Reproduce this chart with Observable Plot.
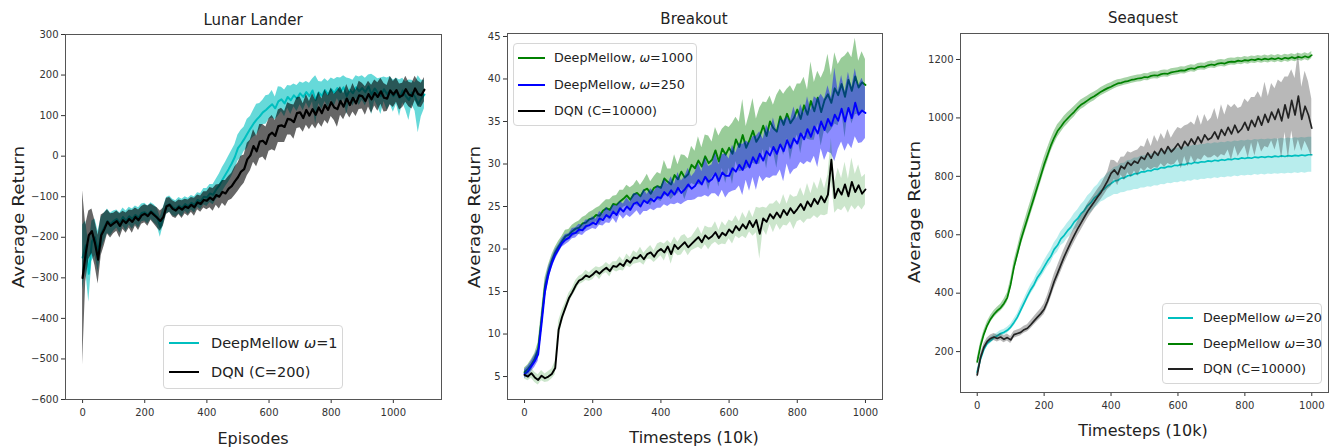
<!DOCTYPE html>
<html><head><meta charset="utf-8">
<script src="https://cdn.jsdelivr.net/npm/d3@7"></script>
<script src="https://cdn.jsdelivr.net/npm/@observablehq/plot@0.6"></script>
<style>
body{margin:0;background:#fff;}
#chart{position:relative;width:1330px;height:447px;overflow:hidden;font-family:"DejaVu Sans",sans-serif;color:#222;background:#fff}
.panel{position:absolute;top:0}
.lbl{position:absolute;white-space:nowrap;transform:translate(-50%,-50%)}
.title{font-size:15px}
.xlab{font-size:16px}
.ylab{font-size:16px;transform:translate(-50%,-50%) rotate(-90deg) scale(1.15,1)}
.legend{position:absolute;border:1px solid #d6d6d6;border-radius:4px;background:rgba(255,255,255,0.85);box-sizing:border-box}
.sw{position:absolute;height:2.5px}
.lt{position:absolute;white-space:nowrap;transform:translateY(-52%)}
</style></head><body><div id="chart"></div>
<script>
// ---------------- Lunar Lander (episodes 0..1100, every 10) ----------------
const llEpisodes = d3.range(0, 1101, 10);
const llMellow = [
  -250,-220,-290,-210,-200,-235,-190,-175,-160,-168,
  -160,-155,-165,-150,-160,-148,-155,-145,-152,-140,
  -138,-145,-135,-142,-150,-175,-148,-122,-118,-126,
  -130,-122,-128,-118,-124,-115,-120,-108,-112,-100,
  -102,-92,-95,-82,-72,-58,-45,-32,-18,-2,
  20,30,42,55,68,80,90,98,108,114,
  121,128,118,135,140,130,146,138,150,142,
  155,146,158,148,162,138,157,149,163,152,
  165,156,168,158,170,148,164,155,170,160,
  168,158,172,152,167,156,148,165,153,162,
  148,160,143,162,148,138,157,146,128,142,152];
const llMellowSpread = [
  80,60,70,50,45,50,40,35,30,28,
  25,22,25,22,25,22,25,22,25,22,
  22,22,20,22,22,25,22,20,20,20,
  20,20,22,18,20,18,20,18,20,20,
  22,22,25,25,28,30,30,32,32,30,
  32,34,30,36,30,33,38,32,30,35,
  30,34,28,36,30,33,28,35,28,32,
  28,34,26,32,28,60,27,34,28,32,
  28,33,26,35,28,45,27,32,28,35,
  30,34,28,50,30,35,45,30,40,34,
  40,32,45,30,35,50,30,35,70,45,35];
const llDqn = [
  -300,-240,-195,-185,-215,-255,-195,-180,-162,-172,
  -166,-160,-172,-158,-165,-155,-162,-150,-158,-146,
  -142,-148,-138,-145,-152,-160,-150,-124,-120,-130,
  -134,-126,-132,-124,-128,-120,-126,-114,-118,-108,
  -110,-102,-108,-96,-100,-88,-92,-80,-74,-62,
  -52,-38,-32,-8,2,25,12,36,38,30,
  52,58,50,74,76,72,92,90,84,106,
  108,94,114,100,116,102,120,106,126,114,
  133,120,116,136,122,142,126,144,130,150,
  148,136,153,140,156,146,160,144,142,162,
  152,163,146,150,165,152,148,167,153,150,164];
const llDqnSpread = [
  215,70,60,55,55,60,50,40,30,30,
  25,25,30,22,25,22,28,22,25,22,
  22,25,20,22,25,25,22,20,18,20,
  20,18,22,18,20,18,22,18,20,20,
  22,25,28,25,30,28,32,30,32,35,
  35,38,35,40,38,40,38,42,40,42,
  40,42,38,40,42,38,40,38,42,38,
  38,35,38,35,38,35,38,35,38,35,
  35,32,45,35,32,35,32,35,32,35,
  32,35,32,35,32,35,32,35,32,35,
  32,30,32,30,32,30,32,30,32,30,30];
const llYTicks = [-600,-500,-400,-300,-200,-100,0,100,200,300];
const llXTicks = [0,200,400,600,800,1000];

// ---------------- Breakout (timesteps 0..1000 x10k, every 10) ----------------
const boSteps = d3.range(0, 1001, 10);
const boMellow1000 = [
  5.5,5.9,6.4,7.1,8.2,11.8,15.6,17.3,18.6,19.6,
  20.3,20.9,21.5,21.7,22.1,22.4,22.5,23.0,23.1,23.5,
  23.6,24.0,23.9,24.5,24.8,24.6,25.3,25.2,25.6,25.9,
  26.3,25.8,26.4,26.6,26.2,26.9,27.1,26.5,27.2,27.4,
  27.2,28.3,27.9,27.6,28.7,28.2,29.1,28.4,28.8,29.9,
  29.5,30.4,29.7,30.9,30.1,30.5,31.6,30.3,31.8,31.1,
  31.9,31.2,32.9,32.0,33.4,31.9,32.8,33.9,32.6,33.3,
  34.5,33.3,35.0,34.2,33.8,35.6,34.6,35.9,34.8,35.4,
  36.4,35.3,36.9,35.8,37.4,36.2,37.8,36.1,37.5,38.2,
  37.2,38.9,38.1,39.4,37.9,39.9,38.6,40.3,39.0,39.6,
  39.3];
const boMellow1000Spread = [
  0.5,0.5,0.6,0.6,0.8,1.0,1.0,0.8,0.7,0.6,
  0.6,0.6,0.7,0.6,0.7,0.7,0.8,0.7,0.8,0.8,
  0.9,0.8,1.1,0.9,1.0,1.2,0.9,1.1,1.3,1.0,
  1.2,1.4,1.1,1.5,1.3,1.2,1.7,1.4,1.3,1.6,
  1.6,2.1,1.5,1.8,2.4,1.7,2.0,2.6,1.8,2.2,
  2.0,2.8,2.2,2.5,3.2,2.1,2.7,3.0,2.3,3.4,
  2.4,3.6,2.6,2.9,4.2,2.5,3.1,3.8,2.7,3.3,
  2.8,3.9,3.0,2.7,4.3,3.2,3.6,2.9,4.4,3.1,
  3.0,4.1,3.3,2.9,4.6,3.4,3.1,4.0,3.5,4.7,
  3.2,4.2,3.6,3.0,4.8,3.3,3.9,4.5,3.1,3.6,
  3.0];
const boMellow250 = [
  5.3,5.6,6.2,6.8,7.6,11.2,15.0,17.0,18.3,19.3,
  20.0,20.7,21.1,21.3,21.8,21.9,22.3,22.2,22.7,22.8,
  23.1,22.9,23.6,23.4,24.0,23.7,24.4,24.0,24.8,24.4,
  25.0,24.6,25.3,25.5,25.0,25.7,25.4,25.9,25.6,26.1,
  26.0,26.7,26.3,26.9,26.4,27.2,26.6,27.0,27.6,27.1,
  27.4,28.1,27.6,28.5,27.9,28.2,28.9,28.0,29.0,28.6,
  28.6,29.5,29.1,29.9,29.3,30.4,29.6,30.8,30.1,31.2,
  30.4,31.5,31.0,32.0,31.2,32.3,31.5,32.8,31.9,33.0,
  32.4,33.6,32.9,34.1,33.2,34.4,33.6,35.0,34.0,35.3,
  34.5,35.8,35.1,36.5,35.0,36.6,35.4,37.2,35.8,36.3,
  36.0];
const boMellow250Spread = [
  0.5,0.6,0.6,0.7,0.8,1.0,1.0,0.8,0.6,0.6,
  0.5,0.5,0.6,0.5,0.6,0.6,0.6,0.6,0.7,0.6,
  0.7,0.6,0.8,0.7,0.9,0.7,0.8,1.0,0.8,0.9,
  1.0,0.9,1.2,1.0,1.1,1.3,1.0,1.2,1.1,1.3,
  1.2,1.5,1.3,1.6,1.2,1.8,1.4,1.5,1.9,1.4,
  1.6,2.0,1.5,2.2,1.8,1.7,2.4,1.9,2.1,2.6,
  2.0,2.7,2.2,2.5,3.0,2.3,2.8,2.4,3.2,2.6,
  2.5,3.1,2.7,3.4,2.6,3.0,3.6,2.8,3.2,3.7,
  2.9,3.4,3.0,3.8,3.1,3.5,4.0,3.2,3.6,3.9,
  3.3,5.5,3.4,3.9,3.5,4.2,3.6,4.0,3.4,3.8,
  3.0];
const boDqn = [
  5.2,5.0,5.4,4.9,4.6,5.1,4.8,5.0,5.3,6.0,
  10.5,12.0,13.1,14.2,14.9,15.7,16.3,16.5,16.9,16.7,
  17.0,17.4,17.1,17.5,17.8,17.4,18.0,17.9,18.3,18.0,
  18.7,18.4,19.0,18.9,19.3,18.8,19.4,19.6,19.1,19.7,
  20.0,19.6,20.3,19.4,20.5,20.0,20.4,20.8,20.2,20.6,
  21.0,21.4,20.8,21.6,21.2,21.5,22.0,21.3,21.9,21.6,
  22.3,21.9,22.7,22.2,22.9,22.4,23.3,22.6,23.4,21.8,
  23.6,23.2,24.1,23.6,24.3,23.7,24.6,24.0,24.8,24.2,
  24.7,25.3,24.6,25.6,25.0,25.9,25.3,26.2,25.5,26.4,
  30.5,26.0,27.1,26.4,27.6,26.2,27.9,26.7,27.5,26.5,
  27.0];
const boDqnSpread = [
  0.5,0.5,0.6,0.6,0.6,0.6,0.5,0.6,0.6,0.8,
  1.0,0.8,0.6,0.6,0.5,0.6,0.5,0.5,0.6,0.5,
  0.6,0.5,0.7,0.5,0.6,0.7,0.5,0.6,0.8,0.6,
  0.7,0.6,0.8,0.6,0.9,0.7,0.6,0.8,0.7,0.9,
  0.8,1.0,0.7,1.2,0.9,0.8,1.1,0.9,1.0,0.8,
  1.0,1.2,0.9,1.1,1.3,1.0,1.2,0.9,1.3,1.1,
  1.1,1.3,1.2,1.0,1.4,1.2,1.3,1.1,1.5,3.0,
  1.3,1.6,1.2,1.7,1.4,1.5,1.8,1.3,1.6,1.9,
  1.5,1.9,1.6,2.1,1.5,2.0,1.7,2.2,1.6,2.3,
  2.5,1.8,2.4,1.9,2.6,2.0,2.8,2.1,2.4,1.9,
  1.8];
const boYTicks = [5,10,15,20,25,30,35,40,45];
const boXTicks = [0,200,400,600,800,1000];

// ---------------- Seaquest (timesteps 0..1000 x10k, every 10) ----------------
const sqSteps = d3.range(0, 1001, 10);
const sqMellow20 = [
  130,175,208,228,238,248,254,262,266,273,
  284,300,318,342,366,390,412,430,454,470,
  490,510,526,550,564,586,598,614,626,644,
  655,672,683,700,710,726,735,750,757,768,
  775,784,786,794,795,802,803,809,809,815,
  815,820,819,825,824,830,829,834,833,838,
  837,841,840,845,843,848,846,850,849,853,
  851,855,853,857,855,859,857,861,859,863,
  861,864,862,866,864,867,865,868,866,869,
  867,870,868,871,869,872,870,873,871,874,
  874];
const sqMellow20Spread = [
  10,10,10,10,10,10,10,10,10,10,
  10,12,12,14,14,15,16,16,18,18,
  20,20,22,22,24,24,26,26,28,28,
  30,30,32,33,34,35,36,38,40,42,
  44,46,48,50,50,52,52,54,54,55,
  55,56,56,57,57,58,58,58,58,59,
  59,59,60,60,60,60,60,60,60,60,
  60,60,60,60,60,60,60,60,60,60,
  60,60,60,60,60,60,60,60,60,60,
  60,60,60,60,60,60,60,60,60,60,
  60];
const sqMellow30 = [
  165,220,260,290,312,328,340,350,365,385,
  430,490,535,580,618,655,692,728,765,802,
  840,872,905,932,955,970,986,998,1010,1021,
  1034,1045,1052,1060,1068,1074,1082,1090,1096,1102,
  1107,1113,1118,1120,1124,1126,1130,1132,1135,1136,
  1140,1139,1144,1146,1145,1150,1152,1151,1156,1158,
  1160,1163,1162,1167,1170,1168,1174,1176,1175,1180,
  1183,1181,1186,1188,1186,1191,1193,1192,1196,1194,
  1198,1196,1200,1198,1202,1199,1203,1200,1204,1201,
  1205,1201,1206,1203,1208,1204,1209,1206,1211,1207,
  1215];
const sqMellow30Spread = [
  12,12,12,12,12,12,12,12,14,16,
  18,20,20,22,22,24,24,24,24,24,
  24,24,22,22,22,20,20,20,18,18,
  16,16,16,15,15,15,14,14,14,14,
  13,13,13,12,12,12,12,12,12,12,
  12,12,12,12,12,12,12,12,12,12,
  12,12,12,12,12,12,12,12,12,12,
  12,12,12,12,12,12,12,12,12,12,
  12,12,12,12,12,12,12,12,12,12,
  12,12,12,12,12,12,12,12,12,12,
  12];
const sqDqn = [
  120,180,215,235,245,250,245,250,242,248,
  240,258,262,266,275,280,292,305,318,330,
  345,372,405,440,468,497,525,550,575,598,
  620,640,660,680,697,713,730,745,765,785,
  810,822,806,835,826,848,838,852,845,866,
  858,880,862,885,872,895,878,902,884,896,
  912,894,920,905,928,910,935,915,942,925,
  932,952,928,960,940,968,945,975,950,962,
  985,958,992,970,1005,975,1012,985,1020,995,
  1030,990,1045,1000,1060,1010,1075,995,1040,1010,
  965];
const sqDqnSpread = [
  12,12,12,12,12,12,12,12,12,12,
  12,12,12,12,12,12,14,14,15,16,
  18,20,22,24,25,25,25,25,25,25,
  25,25,25,25,25,25,25,25,28,30,
  45,32,38,30,40,36,42,34,45,38,
  42,50,40,55,45,52,48,58,46,55,
  55,68,52,72,58,65,75,60,70,62,
  68,80,65,85,70,78,90,72,82,75,
  80,95,78,100,85,92,110,88,98,105,
  100,130,95,140,105,125,150,110,120,115,
  100];
const sqYTicks = [200,400,600,800,1000,1200];
const sqXTicks = [0,200,400,600,800,1000];

// ---------------- drawing ----------------
const CYAN = "#00bfbf", GREEN = "#008000", BLUE = "#0000ff", BLACK = "#000000";
const fmt = d => d < 0 ? "\u2212" + (-d) : String(d);
const chart = document.getElementById("chart");

function rows(x, y, sd) {
  return y.map((v, i) => ({x: x[i], y: v, lo: v - sd[i], hi: v + sd[i]}));
}

function panel(o) {
  const marks = [];
  for (const s of o.series) {
    const data = rows(s.x, s.y, s.sd);
    marks.push(Plot.areaY(data, {x: "x", y1: "lo", y2: "hi", fill: s.band, fillOpacity: s.bandOpacity}));
    marks.push(Plot.lineY(data, {x: "x", y: "y", stroke: s.color, strokeWidth: s.width || 1.7}));
  }
  marks.push(Plot.frame({stroke: "#555", strokeWidth: 1}));
  const svg = Plot.plot({
    width: o.width, height: 447,
    marginLeft: o.ml, marginRight: o.mr, marginTop: o.mt, marginBottom: o.mb,
    x: {domain: o.xDomain, ticks: o.xTicks, tickFormat: fmt, tickSize: 4, tickPadding: 5, label: null},
    y: {domain: o.yDomain, ticks: o.yTicks, tickFormat: fmt, tickSize: 4, tickPadding: 3, label: null},
    style: {fontSize: "10px", fontFamily: "DejaVu Sans, sans-serif", background: "transparent", color: "#333"},
    marks
  });
  const div = document.createElement("div");
  div.className = "panel";
  div.style.left = o.left + "px";
  div.style.width = o.width + "px";
  div.appendChild(svg);
  chart.appendChild(div);
}

function label(cls, text, x, y) {
  const d = document.createElement("div");
  d.className = "lbl " + cls;
  d.textContent = text;
  d.style.left = x + "px"; d.style.top = y + "px";
  chart.appendChild(d);
}

function legend(box, entries, lineX, lineW, textX, fontSize) {
  const b = document.createElement("div");
  b.className = "legend";
  Object.assign(b.style, {left: box[0] + "px", top: box[1] + "px", width: box[2] + "px", height: box[3] + "px"});
  for (const e of entries) {
    const sw = document.createElement("div");
    sw.className = "sw";
    Object.assign(sw.style, {left: lineX + "px", top: (e.y - 1.25) + "px", width: lineW + "px", background: e.color});
    b.appendChild(sw);
    const t = document.createElement("div");
    t.className = "lt";
    t.innerHTML = e.html;
    Object.assign(t.style, {left: textX + "px", top: e.y + "px", fontSize: fontSize + "px"});
    b.appendChild(t);
  }
  chart.appendChild(b);
}

panel({left: 0, width: 450, ml: 65, mr: 9, mt: 34, mb: 48,
  xDomain: [-55, 1155], yDomain: [-600, 300], xTicks: llXTicks, yTicks: llYTicks,
  series: [
    {x: llEpisodes, y: llMellow, sd: llMellowSpread, color: CYAN, band: CYAN, bandOpacity: 0.6, width: 2},
    {x: llEpisodes, y: llDqn, sd: llDqnSpread, color: BLACK, band: BLACK, bandOpacity: 0.6, width: 2.2}
  ]});

panel({left: 445, width: 445, ml: 62, mr: 8, mt: 33, mb: 48,
  xDomain: [-50, 1050], yDomain: [2.3, 45.35], xTicks: boXTicks, yTicks: boYTicks,
  series: [
    {x: boSteps, y: boMellow1000, sd: boMellow1000Spread, color: GREEN, band: GREEN, bandOpacity: 0.4, width: 1.9},
    {x: boSteps, y: boMellow250, sd: boMellow250Spread, color: BLUE, band: BLUE, bandOpacity: 0.45, width: 1.9},
    {x: boSteps, y: boDqn, sd: boDqnSpread, color: BLACK, band: GREEN, bandOpacity: 0.2, width: 1.9}
  ]});

panel({left: 890, width: 440, ml: 70, mr: 2, mt: 33, mb: 55,
  xDomain: [-50, 1050], yDomain: [60, 1289], xTicks: sqXTicks, yTicks: sqYTicks,
  series: [
    {x: sqSteps, y: sqMellow20, sd: sqMellow20Spread, color: CYAN, band: CYAN, bandOpacity: 0.28},
    {x: sqSteps, y: sqMellow30, sd: sqMellow30Spread, color: GREEN, band: GREEN, bandOpacity: 0.35},
    {x: sqSteps, y: sqDqn, sd: sqDqnSpread, color: "#222", band: "#333", bandOpacity: 0.35}
  ]});

label("title", "Lunar Lander", 253, 20);
label("title", "Breakout", 694, 19);
label("title", "Seaquest", 1143, 18);
label("xlab", "Episodes", 253, 438);
label("xlab", "Timesteps (10k)", 694, 437);
label("xlab", "Timesteps (10k)", 1143, 430);
label("ylab", "Average Return", 18, 217);
label("ylab", "Average Return", 474, 217);
label("ylab", "Average Return", 914, 212);

legend([163, 325, 180, 64], [
  {y: 17, color: CYAN, html: "DeepMellow <i>\u03c9</i>=1"},
  {y: 46, color: BLACK, html: "DQN (C=200)"}
], 5, 30, 47, 14.5);

legend([513, 43, 184, 83], [
  {y: 14, color: GREEN, html: "DeepMellow, <i>\u03c9</i>=1000"},
  {y: 41, color: BLUE, html: "DeepMellow, <i>\u03c9</i>=250"},
  {y: 67, color: BLACK, html: "DQN (C=10000)"}
], 4, 27, 40, 12.7);

legend([1162, 303, 160, 81], [
  {y: 14, color: CYAN, html: "DeepMellow <i>\u03c9</i>=20"},
  {y: 40, color: GREEN, html: "DeepMellow <i>\u03c9</i>=30"},
  {y: 65, color: "#222", html: "DQN (C=10000)"}
], 5, 25, 40, 12.7);
</script></body></html>
